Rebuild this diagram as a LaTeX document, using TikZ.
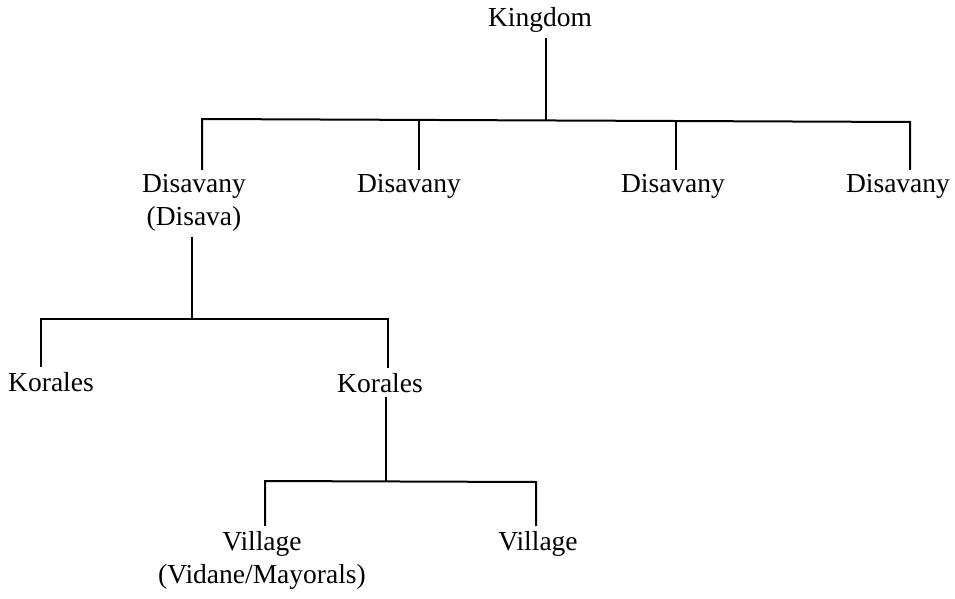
\documentclass[tikz,border=0pt]{standalone}
\usepackage{fontspec}
\setmainfont{Liberation Serif}
\begin{document}
\begin{tikzpicture}[x=1bp,y=-1bp,line width=2bp,main/.style={font=\fontsize{27.5bp}{33bp}\selectfont, inner sep=4bp, anchor=base, align=center}]
    \useasboundingbox (0,0) rectangle (955,599);

    \node[main] (1) at (540,27) {Kingdom};

    \node[main] (2) at (194,226) {Disavany\\(Disava)};
    \node[main] (3) at (409,193) {Disavany};
    \node[main] (4) at (673,193) {Disavany};
    \node[main] (5) at (898,193) {Disavany};

    \node[main] (6) at (51,391) {Korales};
    \node[main] (7) at (380,392) {Korales};

    \node[main] (8) at (262,583) {Village\\(Vidane/Mayorals)};
    \node[main] (9) at (538,550) {Village};

    \coordinate (10) at (546,120);
    \coordinate (11) at (202,119);
    \coordinate (12) at (419,120);
    \coordinate (13) at (676,121);
    \coordinate (14) at (910,122);

    \coordinate (15) at (192,319);
    \coordinate (16) at (41,319);
    \coordinate (17) at (388,319);

    \coordinate (18) at (386,481);
    \coordinate (19) at (265,481);
    \coordinate (20) at (536,482);

    \draw (1.south -| 10) -- (10);
    \draw (2.north -| 11) -- (11) -- (14) -- (5.north -| 14);
    \draw (12) -- (3.north -| 12);
    \draw (13) -- (4.north -| 13);

    \draw (2.south -| 15) -- (15);
    \draw (6.north -| 16) -- (16) -- (17) -- (7.north -| 17);

    \draw (7.south -| 18) -- (18);
    \draw (8.north -| 19) -- (19) -- (20) -- (9.north -| 20);
\end{tikzpicture}
\end{document}
